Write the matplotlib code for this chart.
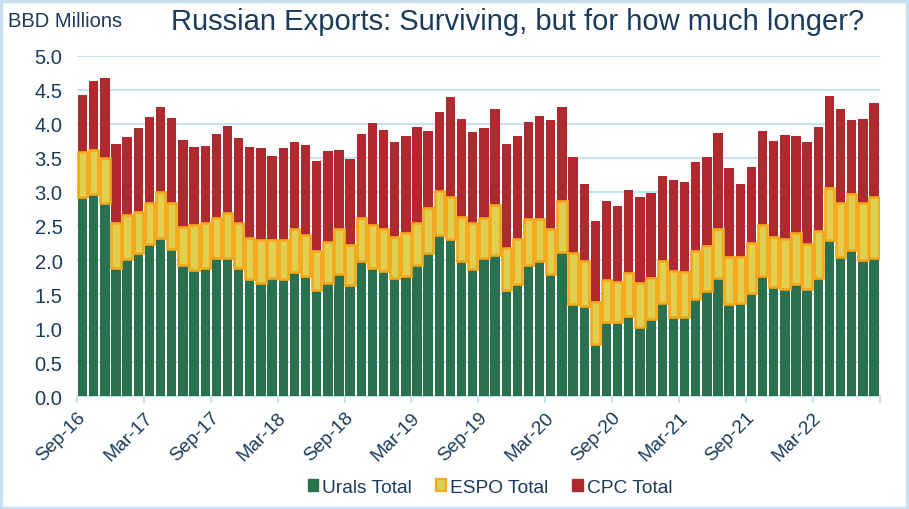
import matplotlib
matplotlib.use("Agg")
import matplotlib.pyplot as plt
import numpy as np
from matplotlib.patches import Rectangle, Patch

urals = [2.93, 2.97, 2.84, 1.89, 2.01, 2.11, 2.24, 2.32, 2.16, 1.92, 1.86, 1.89,
         2.03, 2.03, 1.89, 1.72, 1.67, 1.74, 1.72, 1.82, 1.76, 1.56, 1.66, 1.79,
         1.64, 1.98, 1.89, 1.84, 1.73, 1.77, 1.93, 2.11, 2.36, 2.31, 1.99, 1.87,
         2.03, 2.07, 1.56, 1.65, 1.93, 1.98, 1.79, 2.12, 1.36, 1.32, 0.77, 1.09,
         1.09, 1.18, 1.02, 1.14, 1.37, 1.17, 1.17, 1.43, 1.55, 1.74, 1.35, 1.37,
         1.52, 1.77, 1.61, 1.57, 1.65, 1.57, 1.73, 2.30, 2.05, 2.15, 2.00, 2.03]
espo = [0.66, 0.65, 0.66, 0.66, 0.65, 0.60, 0.59, 0.68, 0.68, 0.57, 0.66, 0.66,
        0.58, 0.66, 0.65, 0.61, 0.63, 0.56, 0.57, 0.63, 0.60, 0.57, 0.61, 0.66,
        0.58, 0.64, 0.63, 0.62, 0.61, 0.63, 0.62, 0.65, 0.66, 0.62, 0.64, 0.68,
        0.59, 0.74, 0.61, 0.66, 0.67, 0.62, 0.66, 0.74, 0.75, 0.67, 0.62, 0.62,
        0.59, 0.63, 0.65, 0.60, 0.62, 0.67, 0.65, 0.70, 0.65, 0.72, 0.69, 0.68,
        0.73, 0.75, 0.73, 0.74, 0.74, 0.67, 0.70, 0.75, 0.78, 0.82, 0.83, 0.89]
cpc = [0.83, 1.01, 1.17, 1.15, 1.15, 1.23, 1.27, 1.25, 1.25, 1.27, 1.14, 1.12,
       1.24, 1.28, 1.25, 1.33, 1.34, 1.23, 1.35, 1.28, 1.33, 1.32, 1.33, 1.17,
       1.26, 1.23, 1.49, 1.45, 1.39, 1.42, 1.40, 1.13, 1.15, 1.46, 1.44, 1.33,
       1.32, 1.41, 1.53, 1.51, 1.43, 1.51, 1.61, 1.39, 1.40, 1.13, 1.18, 1.16,
       1.11, 1.22, 1.26, 1.24, 1.24, 1.34, 1.33, 1.31, 1.31, 1.40, 1.31, 1.07,
       1.12, 1.37, 1.41, 1.53, 1.43, 1.49, 1.52, 1.36, 1.39, 1.09, 1.24, 1.39]
tick_labels = ["Sep-16", "Mar-17", "Sep-17", "Mar-18", "Sep-18", "Mar-19",
               "Sep-19", "Mar-20", "Sep-20", "Mar-21", "Sep-21", "Mar-22"]
series_names = ["Urals Total", "ESPO Total", "CPC Total"]

GREEN = "#2A7150"
RED = "#B0292F"
ORANGE = "#F5A81B"
YELLOW = "#E0CF50"
NAVY = "#1B3A5C"
GRID = "#C8E0F4"

plt.rcParams['font.family'] = ['Liberation Sans', 'DejaVu Sans']

fig = plt.figure(figsize=(9.09, 5.10), dpi=100)
ax = fig.add_axes([0.0847, 0.221, 0.883, 0.668])

x = np.arange(len(urals))
u = np.array(urals)
e = np.array(espo)
c = np.array(cpc)
w = 0.84
ax.bar(x, u, width=w, color=GREEN, zorder=3)
ax.bar(x, c, width=w, bottom=u + e, color=RED, zorder=3)
ax.bar(x, e, width=w, bottom=u, color=YELLOW, edgecolor=ORANGE, linewidth=1.9, zorder=4)

ax.set_xlim(-0.5, len(urals) - 0.5)
ax.set_ylim(0, 5.0)
yt = np.arange(0, 5.01, 0.5)
ax.set_yticks(yt)
ax.set_yticklabels([f"{v:.1f}" for v in yt], fontsize=14.5, color=NAVY)
ax.yaxis.grid(True, color=GRID, linewidth=1.5, zorder=0)
ax.tick_params(axis='y', length=0, pad=10.5)

ticks = [i - 0.5 for i in range(0, len(urals) + 1, 6)]
ax.set_xticks(ticks)
ax.set_xticklabels(tick_labels + [""] * (len(ticks) - len(tick_labels)), rotation=45,
                   ha='right', rotation_mode='anchor', fontsize=13.8, color=NAVY)
ax.tick_params(axis='x', length=5, width=1.5, color=GRID, pad=4)

for s in ['top', 'right', 'left']:
    ax.spines[s].set_visible(False)
ax.spines['bottom'].set_color(GRID)
ax.spines['bottom'].set_linewidth(1.5)

handles = [Patch(facecolor=GREEN, edgecolor=GREEN),
           Patch(facecolor=YELLOW, edgecolor=ORANGE, linewidth=1.6),
           Patch(facecolor=RED, edgecolor=RED)]
fig.legend(handles, series_names, loc='center', bbox_to_anchor=(0.539, 0.043), ncol=3,
           frameon=False, fontsize=13.8, handlelength=0.55, handleheight=0.55,
           handletextpad=0.2, columnspacing=1.25, labelcolor=NAVY)

fig.text(0.009, 0.957, "BBD Millions", fontsize=14.5, color=NAVY, va='center', ha='left')
fig.text(0.569, 0.957, "Russian Exports: Surviving, but for how much longer?",
         fontsize=21, color=NAVY, va='center', ha='center')

fig.patches.append(Rectangle((0.001, 0.002), 0.997, 0.995, transform=fig.transFigure,
                             fill=False, edgecolor=GRID, linewidth=2.5))

fig.savefig("out.png", dpi=100)
